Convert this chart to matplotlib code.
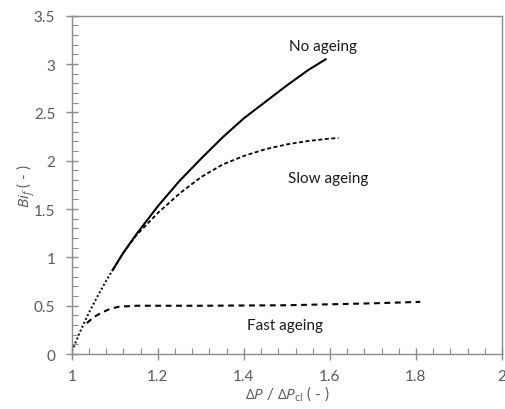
import numpy as np
import matplotlib
matplotlib.use("Agg")
import matplotlib.pyplot as plt
from matplotlib.ticker import MultipleLocator

plt.rcParams['font.family'] = ['Lato', 'DejaVu Sans']
plt.rcParams['mathtext.fontset'] = 'custom'
plt.rcParams['mathtext.rm'] = 'Open Sans'
plt.rcParams['mathtext.it'] = 'Open Sans:italic'

# Shared initial branch (dotted) before the curves separate
x_start = [1.0, 1.02, 1.04, 1.06, 1.08, 1.095]
y_start = [0.03, 0.24, 0.43, 0.60, 0.76, 0.87]

# No ageing
x_none = [1.095, 1.12, 1.15, 1.20, 1.25, 1.30, 1.35, 1.40, 1.45, 1.50, 1.55, 1.59]
y_none = [0.87, 1.05, 1.24, 1.53, 1.79, 2.02, 2.24, 2.44, 2.61, 2.78, 2.94, 3.05]

# Slow ageing
x_slow = [1.095, 1.12, 1.15, 1.20, 1.25, 1.30, 1.35, 1.40, 1.45, 1.50, 1.55, 1.60, 1.62]
y_slow = [0.87, 1.05, 1.23, 1.46, 1.66, 1.83, 1.96, 2.05, 2.12, 2.17, 2.205, 2.23, 2.235]

# Fast ageing
x_fast = [1.035, 1.05, 1.07, 1.09, 1.11, 1.15, 1.30, 1.50, 1.60, 1.70, 1.81]
y_fast = [0.32, 0.38, 0.43, 0.47, 0.49, 0.50, 0.50, 0.505, 0.515, 0.525, 0.54]

fig = plt.figure(figsize=(5.06, 4.10), dpi=100)
ax = fig.add_axes([0.142, 0.134, 0.850, 0.825])

ax.plot(x_start, y_start, color='black', lw=1.4, linestyle=(0, (1, 1.2)))
ax.plot(x_none, y_none, color='black', lw=1.5)
ax.plot(x_slow, y_slow, color='black', lw=1.3, linestyle=(0, (2.2, 1.4)))
ax.plot(x_fast, y_fast, color='black', lw=1.5, linestyle=(0, (2.8, 2.2)))

fs = 11
ax.text(1.585, 3.12, 'No ageing', fontsize=fs, color='#1a1a1a', va='bottom', ha='center')
ax.text(1.595, 1.82, 'Slow ageing', fontsize=fs, color='#1a1a1a', va='center', ha='center')
ax.text(1.495, 0.30, 'Fast ageing', fontsize=fs, color='#1a1a1a', va='center', ha='center')

ax.set_xlim(1, 2)
ax.set_ylim(0, 3.5)
ax.xaxis.set_major_locator(MultipleLocator(0.2))
ax.xaxis.set_minor_locator(MultipleLocator(0.04))
ax.yaxis.set_major_locator(MultipleLocator(0.5))
ax.yaxis.set_minor_locator(MultipleLocator(0.1))
ax.xaxis.set_major_formatter(plt.FuncFormatter(lambda v, p: f'{v:g}'))
ax.yaxis.set_major_formatter(plt.FuncFormatter(lambda v, p: f'{v:g}'))

spine_col = '#8c8c8c'
for s in ax.spines.values():
    s.set_color(spine_col)
    s.set_linewidth(1.0)
ax.tick_params(which='major', direction='inout', length=8, width=1.0,
               color=spine_col, labelcolor='#595959', labelsize=fs)
ax.tick_params(axis='y', which='major', pad=8)
ax.tick_params(axis='x', which='major', pad=7)
ax.tick_params(which='minor', direction='in', length=4, width=0.8, color=spine_col)
ax.tick_params(axis='x', which='both', top=False)
ax.tick_params(axis='y', which='both', right=False)

ax.set_xlabel(r'$\mathit{\Delta P}$ / $\mathit{\Delta P}_{\mathrm{cl}}$ ( - )',
              fontsize=fs, color='#595959')
ax.set_ylabel(r'$\mathit{Bi}_{\mathit{f}}$ ( - )', fontsize=fs, color='#595959')
ax.xaxis.set_label_coords(0.5, -0.085)
ax.yaxis.set_label_coords(-0.08, 0.5)

fig.savefig('out.png', dpi=100)
